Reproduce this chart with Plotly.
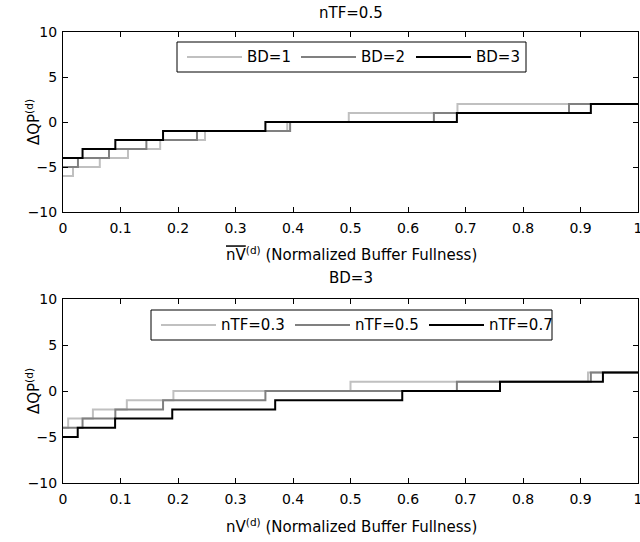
import plotly.graph_objects as go

# ---------------- data ----------------
x_ticks = [0, 0.1, 0.2, 0.3, 0.4, 0.5, 0.6, 0.7, 0.8, 0.9, 1]
x_tick_labels = ["0", "0.1", "0.2", "0.3", "0.4", "0.5", "0.6", "0.7", "0.8", "0.9", "1"]
y_ticks = [-10, -5, 0, 5, 10]

# Top panel: nTF = 0.5, varying BD  (step change points and levels)
bd1_breaks = [0.0174, 0.064, 0.113, 0.169, 0.247, 0.39, 0.497, 0.686]
bd1_levels = [-6, -5, -4, -3, -2, -1, 0, 1, 2]
bd2_breaks = [0.026, 0.080, 0.145, 0.233, 0.395, 0.645, 0.88]
bd2_levels = [-5, -4, -3, -2, -1, 0, 1, 2]
bd3_breaks = [0.034, 0.091, 0.174, 0.352, 0.685, 0.918]
bd3_levels = [-4, -3, -2, -1, 0, 1, 2]

# Bottom panel: BD = 3, varying nTF
ntf03_breaks = [0.009, 0.052, 0.111, 0.192, 0.5, 0.913]
ntf03_levels = [-4, -3, -2, -1, 0, 1, 2]
ntf05_breaks = [0.034, 0.091, 0.174, 0.352, 0.685, 0.918]
ntf05_levels = [-4, -3, -2, -1, 0, 1, 2]
ntf07_breaks = [0.0256, 0.0906, 0.19, 0.369, 0.59, 0.76, 0.939]
ntf07_levels = [-5, -4, -3, -2, -1, 0, 1, 2]

top_names = ["BD=1", "BD=2", "BD=3"]
bot_names = ["nTF=0.3", "nTF=0.5", "nTF=0.7"]

LIGHT = "#c0c0c0"
MID = "#808080"
DARK = "#000000"
FONT = "DejaVu Sans, Liberation Sans, Arial, sans-serif"
FS = 15
TFS = 14


def step_xy(breaks, levels):
    xs = [0.0] + list(breaks) + [1.0]
    ys = list(levels) + [levels[-1]]
    return xs, ys


fig = go.Figure()

colors = [LIGHT, MID, DARK]
top_series = list(zip(top_names, [bd1_breaks, bd2_breaks, bd3_breaks],
                      [bd1_levels, bd2_levels, bd3_levels], colors))
bot_series = list(zip(bot_names, [ntf03_breaks, ntf05_breaks, ntf07_breaks],
                      [ntf03_levels, ntf05_levels, ntf07_levels], colors))

for name, br, lv, col in top_series:
    xs, ys = step_xy(br, lv)
    fig.add_trace(go.Scatter(x=xs, y=ys, mode="lines", name=name, showlegend=False,
                             line=dict(color=col, width=2, shape="hv"),
                             xaxis="x", yaxis="y"))
for name, br, lv, col in bot_series:
    xs, ys = step_xy(br, lv)
    fig.add_trace(go.Scatter(x=xs, y=ys, mode="lines", name=name, showlegend=False,
                             line=dict(color=col, width=2, shape="hv"),
                             xaxis="x2", yaxis="y2"))

W, H = 640, 542
L, R = 63, 2
pw = W - L - R


def py(px):
    return 1 - px / H


def pxx(px):
    return (px - L) / pw


axis_common = dict(showline=True, linecolor="black", linewidth=1, mirror="ticks",
                   ticks="inside", ticklen=5, tickcolor="black", showgrid=False,
                   zeroline=False, ticklabeloverflow="allow",
                   tickfont=dict(family=FONT, size=TFS, color="black"))

fig.update_layout(
    width=W, height=H,
    margin=dict(l=L, r=R, t=0, b=0, autoexpand=False),
    paper_bgcolor="white", plot_bgcolor="white",
    font=dict(family=FONT, size=FS, color="black"),
    xaxis=dict(domain=[0, 1], range=[0, 1], tickvals=x_ticks, ticktext=x_tick_labels,
               anchor="y", ticklabelstandoff=3, **axis_common),
    yaxis=dict(domain=[py(212), py(32)], range=[-10, 10], tickvals=y_ticks,
               anchor="x", ticklabelstandoff=2, **axis_common),
    xaxis2=dict(domain=[0, 1], range=[0, 1], tickvals=x_ticks, ticktext=x_tick_labels,
                anchor="y2", ticklabelstandoff=3, **axis_common),
    yaxis2=dict(domain=[py(483), py(299)], range=[-10, 10], tickvals=y_ticks,
                anchor="x2", ticklabelstandoff=2, **axis_common),
    showlegend=False,
)

ann_font = dict(family=FONT, size=FS, color="black")


def add_text(text, xpx, ypx, anchor="center", angle=0):
    fig.add_annotation(text=text, x=pxx(xpx), y=py(ypx), xref="paper", yref="paper",
                       showarrow=False, font=ann_font, xanchor=anchor, yanchor="middle",
                       textangle=angle)


# titles
add_text("nTF=0.5", 351, 13)
add_text('<span style="text-decoration:overline">nV</span><sup>(d)</sup> (Normalized Buffer Fullness)', 351, 254)
add_text("BD=3", 351, 278)
add_text("nV<sup>(d)</sup> (Normalized Buffer Fullness)", 351, 526)
for yc in (122, 391):
    add_text("ΔQP<sup>(d)</sup>", 33, yc, angle=-90)


# custom legends (box, line samples, labels)
def draw_legend(names, box, line_starts, line_len, text_gap):
    x0, y0, x1, y1 = box
    fig.add_shape(type="rect", xref="paper", yref="paper",
                  x0=pxx(x0), x1=pxx(x1), y0=py(y1), y1=py(y0),
                  line=dict(color="black", width=1), fillcolor="white", layer="above")
    yc = (y0 + y1) / 2
    for name, col, ls in zip(names, colors, line_starts):
        fig.add_shape(type="line", xref="paper", yref="paper",
                      x0=pxx(ls), x1=pxx(ls + line_len), y0=py(yc), y1=py(yc),
                      line=dict(color=col, width=2), layer="above")
        add_text(name, ls + line_len + text_gap, yc, anchor="left")


draw_legend(top_names, (177, 42, 526, 72), [187, 301, 416], 55, 3)
draw_legend(bot_names, (151, 310, 552, 340), [161, 295, 429], 55, 3)

fig.write_html("out.html", config={"displayModeBar": False},
               post_script="document.body.style.margin='0';document.body.style.overflow='hidden';")
